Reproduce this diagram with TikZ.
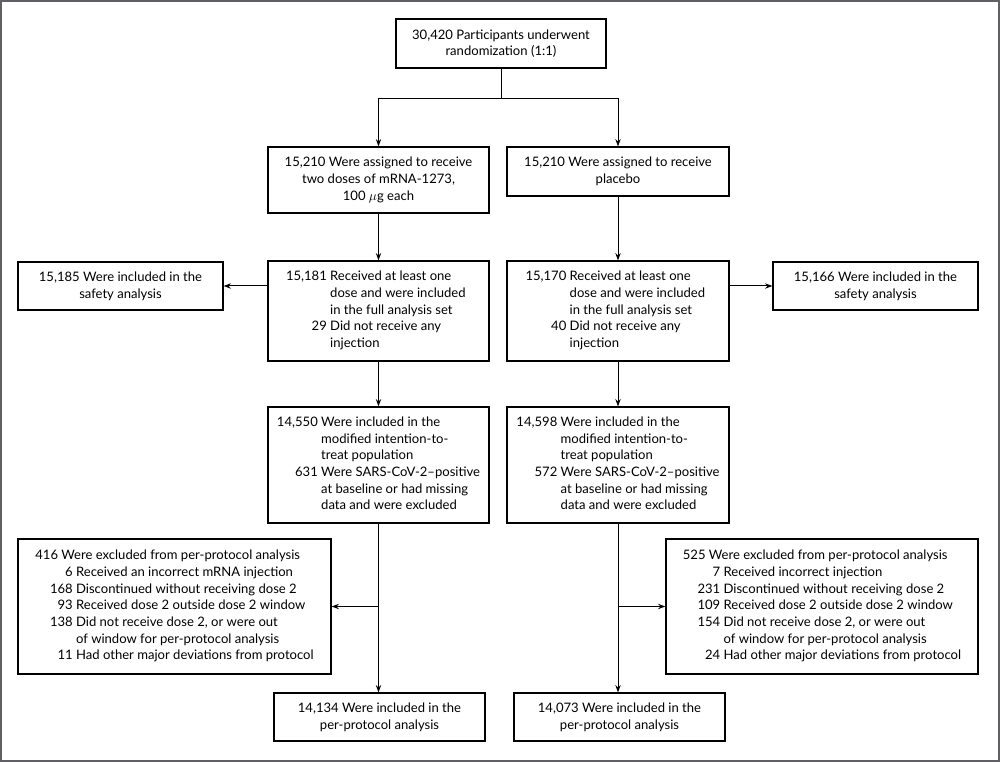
\documentclass[tikz,border=0pt]{standalone}
\usepackage{fontspec}
\setmainfont{Lato}
\usetikzlibrary{arrows.meta}
\tikzset{
  box/.style={draw=black, line width=0.9pt, inner sep=0pt, align=center,
    font=\fontsize{9.8}{12.5}\selectfont},
  arr/.style={line width=0.75pt, -{Stealth[length=5.5pt,width=4pt]}},
  ln/.style={line width=0.75pt},
}
\begin{document}
\begin{tikzpicture}[x=0.75pt,y=-0.75pt]
\useasboundingbox (0,0) rectangle (1000,762);
\draw[line width=1.5pt, draw={rgb,255:red,96;green,96;blue,100}] (1,1) rectangle (999,761);
\fontsize{9.8}{12.5}\selectfont
\node[box, minimum width=210*0.75pt, minimum height=49*0.75pt] (rand) at (501,43.5)
  {30,420 Participants underwent\\randomization (1:1)};
\node[box, minimum width=221*0.75pt, minimum height=66*0.75pt] (assA) at (378.5,180)
  {15,210 Were assigned to receive\\two doses of mRNA-1273,\\100 $\mu$g each};
\node[box, minimum width=222*0.75pt, minimum height=49*0.75pt] (assB) at (618,171.5)
  {15,210 Were assigned to receive\\placebo};
\node[box, minimum width=221*0.75pt, minimum height=100*0.75pt] (recA) at (378.5,311)
  {\begin{tabular}{@{}r@{\ }l@{}}15,181 & Received at least one\\ & dose and were included\\ & in the full analysis set\\ 29 & Did not receive any\\ & injection\end{tabular}\hspace*{4pt}};
\node[box, minimum width=222*0.75pt, minimum height=100*0.75pt] (recB) at (618,311)
  {\begin{tabular}{@{}r@{\ }l@{}}15,170 & Received at least one\\ & dose and were included\\ & in the full analysis set\\ 40 & Did not receive any\\ & injection\end{tabular}\hspace*{4pt}};
\node[box, minimum width=205*0.75pt, minimum height=48*0.75pt] (safA) at (120.5,286)
  {15,185 Were included in the\\safety analysis};
\node[box, minimum width=205*0.75pt, minimum height=48*0.75pt] (safB) at (875.5,286)
  {15,166 Were included in the\\safety analysis};
\node[box, minimum width=221*0.75pt, minimum height=116*0.75pt] (mitA) at (378.5,465)
  {\begin{tabular}{@{}r@{\ }l@{}}14,550 & Were included in the\\ & modified intention-to-\\ & treat population\\ 631 & Were SARS-CoV-2--positive\\ & at baseline or had missing\\ & data and were excluded\end{tabular}};
\node[box, minimum width=222*0.75pt, minimum height=116*0.75pt] (mitB) at (618,465)
  {\begin{tabular}{@{}r@{\ }l@{}}14,598 & Were included in the\\ & modified intention-to-\\ & treat population\\ 572 & Were SARS-CoV-2--positive\\ & at baseline or had missing\\ & data and were excluded\end{tabular}};
\node[box, minimum width=313*0.75pt, minimum height=135*0.75pt] (exA) at (174.5,606.5)
  {\begin{tabular}{@{\hspace{11pt}}r@{\ }l@{}}\multicolumn{2}{@{}l@{}}{416 Were excluded from per-protocol analysis}\\
  6 & Received an incorrect mRNA injection\\
  168 & Discontinued without receiving dose 2\\
  93 & Received dose 2 outside dose 2 window\\
  138 & Did not receive dose 2, or were out\\
   & of window for per-protocol analysis\\
  11 & Had other major deviations from protocol\end{tabular}};
\node[box, minimum width=312*0.75pt, minimum height=135*0.75pt] (exB) at (822,606.5)
  {\begin{tabular}{@{\hspace{11pt}}r@{\ }l@{}}\multicolumn{2}{@{}l@{}}{525 Were excluded from per-protocol analysis}\\
  7 & Received incorrect injection\\
  231 & Discontinued without receiving dose 2\\
  109 & Received dose 2 outside dose 2 window\\
  154 & Did not receive dose 2, or were out\\
   & of window for per-protocol analysis\\
  24 & Had other major deviations from protocol\end{tabular}};
\node[box, minimum width=211*0.75pt, minimum height=48*0.75pt] (ppA) at (379.5,717)
  {14,134 Were included in the\\per-protocol analysis};
\node[box, minimum width=211*0.75pt, minimum height=48*0.75pt] (ppB) at (619.5,717)
  {14,073 Were included in the\\per-protocol analysis};
% connectors
\coordinate (split) at (501,99);
\draw[ln] (rand.south) -- (split);
\draw[arr] (split) -| (assA.north);
\draw[arr] (split) -| (assB.north);
\draw[arr] (assA.south) -- (recA.north);
\draw[arr] (assB.south) -- (recB.north);
\draw[arr] (safA.east -| recA.west) -- (safA.east);
\draw[arr] (safB.west -| recB.east) -- (safB.west);
\draw[arr] (recA.south) -- (mitA.north);
\draw[arr] (recB.south) -- (mitB.north);
\coordinate (brA) at (mitA.south |- exA.east);
\coordinate (brB) at (mitB.south |- exB.west);
\draw[arr] (mitA.south) -- (mitA.south |- ppA.north);
\draw[arr] (mitB.south) -- (mitB.south |- ppB.north);
\draw[arr] (brA) -- (exA.east);
\draw[arr] (brB) -- (exB.west);
\end{tikzpicture}
\end{document}
